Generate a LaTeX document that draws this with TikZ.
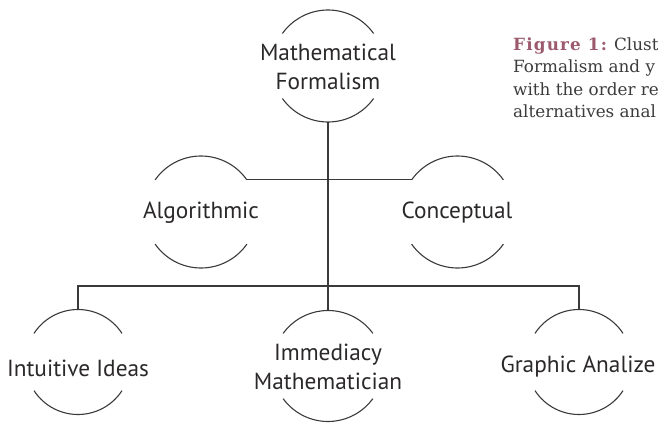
\documentclass[tikz,border=0pt]{standalone}
\usepackage{fontspec}
\newfontfamily\diagfont{PT Sans}
\newfontfamily\captfont{DejaVu Serif}
\definecolor{ink}{HTML}{2B2829}
\definecolor{captc}{HTML}{3C3C3C}
\definecolor{linec}{HTML}{3A3A3A}
\definecolor{figc}{HTML}{9C5A6D}
\tikzset{
  ln/.style={draw=linec, line width=1.1pt},
  ringshape/.style={circle, inner sep=0pt, outer sep=0pt},
  lbl/.style={text=ink, font=\diagfont\fontsize{23.3}{29}\selectfont, align=center, inner sep=0pt},
}
\newcommand\ringnode[5]{% name, position, radius, top half-angle, bottom half-angle
  \node[ringshape, minimum size=2*#3 pt] (#1) at #2 {};
  \draw[ln] (#1) ++(#4:#3) arc[start angle=#4, end angle=180-#4, radius=#3];
  \draw[ln] (#1) ++(180+#5:#3) arc[start angle=180+#5, end angle=360-#5, radius=#3];
}
\begin{document}
\begin{tikzpicture}[x=1pt,y=1pt]
\useasboundingbox (0,0) rectangle (658,-423);
% rings
\ringnode{top}{(328,-66)}{56}{35.5}{35.5}
\ringnode{alg}{(201,-212)}{56}{35}{35}
\ringnode{con}{(457.5,-212)}{56}{35}{35}
\ringnode{int}{(78,-362)}{52.5}{33}{33}
\ringnode{imm}{(328,-366)}{55.5}{36}{36}
\ringnode{gra}{(579,-362)}{52.5}{33}{33}
% labels
\node[lbl] (topT) at (328,-67) {Mathematical\\Formalism};
\node[lbl] (algT) at (201,-213) {Algorithmic};
\node[lbl] (conT) at (457,-213) {Conceptual};
\node[lbl] (intT) at (78,-368) {Intuitive Ideas};
\node[lbl] (immT) at (328,-367) {Immediacy\\Mathematician};
\node[lbl] (graT) at (578,-367) {Graphic Analize};
% connectors
\coordinate (bar) at (0,-286);
\draw[ln] (top.south) -- (imm.north);
\draw[ln] (alg.35) -- (con.145);
\draw[ln] (int.north) -- (int.north |- bar) -- (gra.north |- bar) -- (gra.north);
% caption
\begin{scope}
\clip (0,0) rectangle (658,-423);
\node[anchor=base west, align=left, inner sep=0pt, text=captc,
      font=\captfont\fontsize{16.8}{22.5}\selectfont] (cap) at (513,-117.5)
  {\textcolor{figc}{\bfseries\addfontfeature{LetterSpace=7}Figure 1:} Cluster\\Formalism and y\\with the order re\\alternatives anal};
\end{scope}
\end{tikzpicture}
\end{document}
